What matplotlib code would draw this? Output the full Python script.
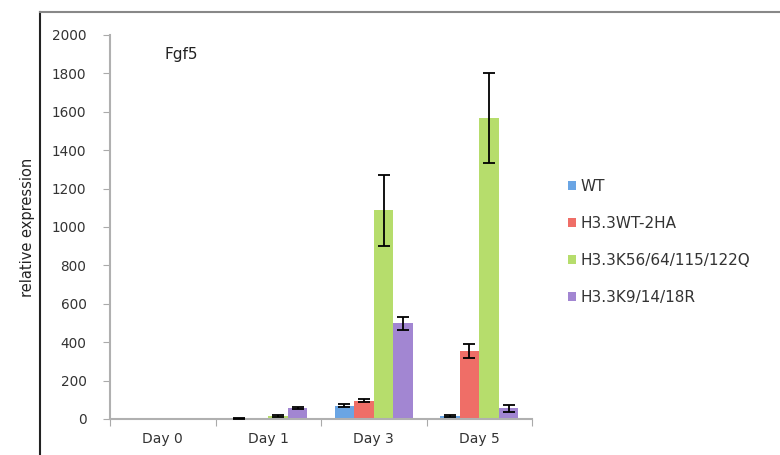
import numpy as np
import matplotlib
matplotlib.use("Agg")
from matplotlib import pyplot as plt
from matplotlib.lines import Line2D

days = ["Day 0", "Day 1", "Day 3", "Day 5"]
series = ["WT", "H3.3WT-2HA", "H3.3K56/64/115/122Q", "H3.3K9/14/18R"]
wt = [2, 3, 68, 17]
wt_err = [0, 2, 8, 4]
wt2ha = [3, 2, 94, 354]
wt2ha_err = [0, 0, 8, 38]
k56q = [2, 15, 1088, 1568]
k56q_err = [0, 4, 185, 235]
k9r = [3, 55, 498, 57]
k9r_err = [0, 5, 35, 18]
colors = ["#6aa5e4", "#ef6e67", "#b6dd6c", "#a286d2"]

values = [wt, wt2ha, k56q, k9r]
errors = [wt_err, wt2ha_err, k56q_err, k9r_err]

fig = plt.figure(figsize=(7.8, 4.55), dpi=100)
ax = fig.add_axes([110 / 780, 1 - 419 / 455, 422 / 780, 384 / 455])

x = np.arange(len(days)) + 0.5
w = 0.186
for i, (vals, errs, c, name) in enumerate(zip(values, errors, colors, series)):
    xs = x + (i - 1.5) * w
    ax.bar(xs, vals, w, color=c, label=name, zorder=2)
    vals = np.array(vals)
    errs = np.array(errs)
    keep = errs > 0
    ax.errorbar(xs[keep], vals[keep], yerr=errs[keep], fmt="none", ecolor="black",
                elinewidth=1.3, capsize=4, capthick=1.3, zorder=3)

ax.set_xlim(0, 4)
ax.set_ylim(0, 2000)
ax.set_yticks(range(0, 2001, 200))
ax.set_xticks(range(0, 5))
ax.set_xticklabels([])
ax.set_xticks(x, minor=True)
ax.set_xticklabels(days, minor=True, fontsize=10, color="#333333")
ax.tick_params(axis="x", which="minor", length=0, pad=9)
ax.tick_params(axis="x", which="major", length=5, color="#aaaaaa", direction="out")
ax.tick_params(axis="y", length=5, color="#aaaaaa", labelsize=9.8, labelcolor="#333333", pad=12)

for s in ["top", "right"]:
    ax.spines[s].set_visible(False)
for s in ["left", "bottom"]:
    ax.spines[s].set_color("#b0b0b0")
    ax.spines[s].set_linewidth(1.5)

ax.set_ylabel("relative expression", fontsize=10.5, color="#222222", labelpad=12)
ax.text(0.13, 0.95, "Fgf5", transform=ax.transAxes, fontsize=11, color="#222222",
        ha="left", va="center")

leg = fig.legend(loc="upper left", bbox_to_anchor=(554 / 780, 1 - 165 / 455),
                 frameon=False, fontsize=11, handlelength=0.55, handleheight=0.55,
                 handletextpad=0.3, labelspacing=1.45, labelcolor="#333333")

# outer frame (left and top edges)
fig.add_artist(Line2D([40 / 780, 40 / 780], [0, 1 - 12 / 455], color="#222222", lw=1.5))
fig.add_artist(Line2D([40 / 780, 1], [1 - 12 / 455, 1 - 12 / 455], color="#888888", lw=1.5))

fig.savefig("out.png", dpi=100)
